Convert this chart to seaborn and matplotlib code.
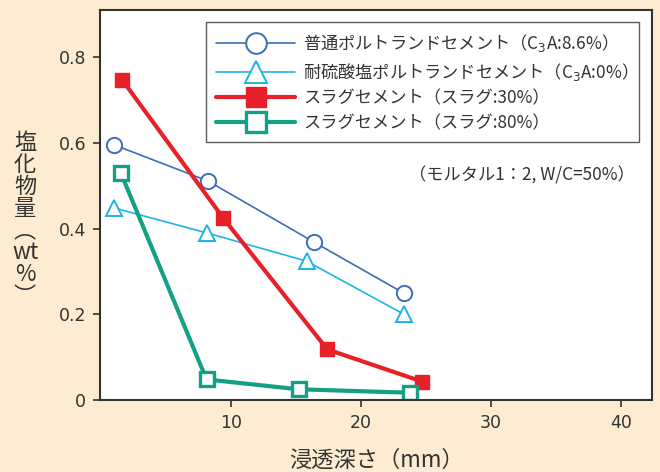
import pandas as pd
import seaborn as sns
import matplotlib.pyplot as plt

# data (depth mm, chloride wt%)
x_normal = [1.0, 8.2, 16.4, 23.3]
y_normal = [0.595, 0.511, 0.368, 0.249]
x_sr = [1.0, 8.1, 15.8, 23.3]
y_sr = [0.448, 0.390, 0.324, 0.200]
x_slag30 = [1.6, 9.4, 17.4, 24.7]
y_slag30 = [0.747, 0.424, 0.118, 0.043]
x_slag80 = [1.5, 8.1, 15.2, 23.8]
y_slag80 = [0.530, 0.048, 0.025, 0.017]

labels = [
    "普通ポルトランドセメント（C$_3$A:8.6%）",
    "耐硫酸塩ポルトランドセメント（C$_3$A:0%）",
    "スラグセメント（スラグ:30%）",
    "スラグセメント（スラグ:80%）",
]
xticks = [10, 20, 30, 40]
yticks = [0, 0.2, 0.4, 0.6, 0.8]
ytick_labels = ["0", "0.2", "0.4", "0.6", "0.8"]

sns.set_style("white")
plt.rcParams['font.family'] = ['Noto Sans CJK JP', 'DejaVu Sans']
plt.rcParams['mathtext.fontset'] = 'dejavusans'

bg = "#FEECD2"
ink = "#333333"

fig = plt.figure(figsize=(6.6, 4.72), dpi=100, facecolor=bg)
ax = fig.add_axes([0.1515, 0.1525, 0.8365, 0.8265])
ax.set_facecolor("white")

styles = [
    dict(color="#3D6DB8", marker="o", markersize=11, markerfacecolor="white",
         markeredgecolor="#3D6DB8", markeredgewidth=1.4, linewidth=1.2),
    dict(color="#1DB3EA", marker="^", markersize=12, markerfacecolor="white",
         markeredgecolor="#1DB3EA", markeredgewidth=1.4, linewidth=1.2),
    dict(color="#E8202A", marker="s", markersize=10.5, markerfacecolor="#E8202A",
         markeredgecolor="#E8202A", markeredgewidth=1, linewidth=3.0),
    dict(color="#14A084", marker="s", markersize=10.5, markerfacecolor="white",
         markeredgecolor="#14A084", markeredgewidth=2.4, linewidth=3.0),
]
series = [(x_normal, y_normal), (x_sr, y_sr), (x_slag30, y_slag30), (x_slag80, y_slag80)]

for (xs, ys), lab, st in zip(series, labels, styles):
    df = pd.DataFrame({"depth": xs, "cl": ys})
    sns.lineplot(data=df, x="depth", y="cl", ax=ax, sort=False, label=lab, **st)

ax.set_xlim(-0.1, 42.4)
ax.set_ylim(0, 0.91)
ax.set_xticks(xticks)
ax.set_yticks(yticks)
ax.set_yticklabels(ytick_labels)
ax.tick_params(axis="both", direction="out", length=5, width=1.2, color=ink,
               labelcolor=ink, labelsize=12.5, pad=5)
ax.tick_params(left=True, bottom=True)
for lbl in ax.get_xticklabels() + ax.get_yticklabels():
    lbl.set_family("DejaVu Sans")
for sp in ax.spines.values():
    sp.set_color(ink)
    sp.set_linewidth(1.5)

ax.set_xlabel("浸透深さ（mm）", fontsize=16, color=ink, labelpad=12)
ax.set_ylabel("")
fig.text(0.038, 0.535, "塩\n化\n物\n量\n︵\nwt\n%\n︶", fontsize=16, color=ink,
         ha="center", va="center", linespacing=0.95)

leg = ax.legend(loc="upper right", bbox_to_anchor=(0.976, 0.969), borderaxespad=0,
                fontsize=12.4, handlelength=4.6, handletextpad=0.45, markerscale=1.35,
                frameon=True, fancybox=False, edgecolor=ink, labelspacing=0.38,
                borderpad=0.6)
leg.get_frame().set_linewidth(1.0)
for t in leg.get_texts():
    t.set_color(ink)

ax.text(0.969, 0.577, "（モルタル1：2, W/C=50%）", transform=ax.transAxes,
        ha="right", va="center", fontsize=12.4, color=ink)

fig.savefig("out.png", dpi=100, facecolor=bg)
